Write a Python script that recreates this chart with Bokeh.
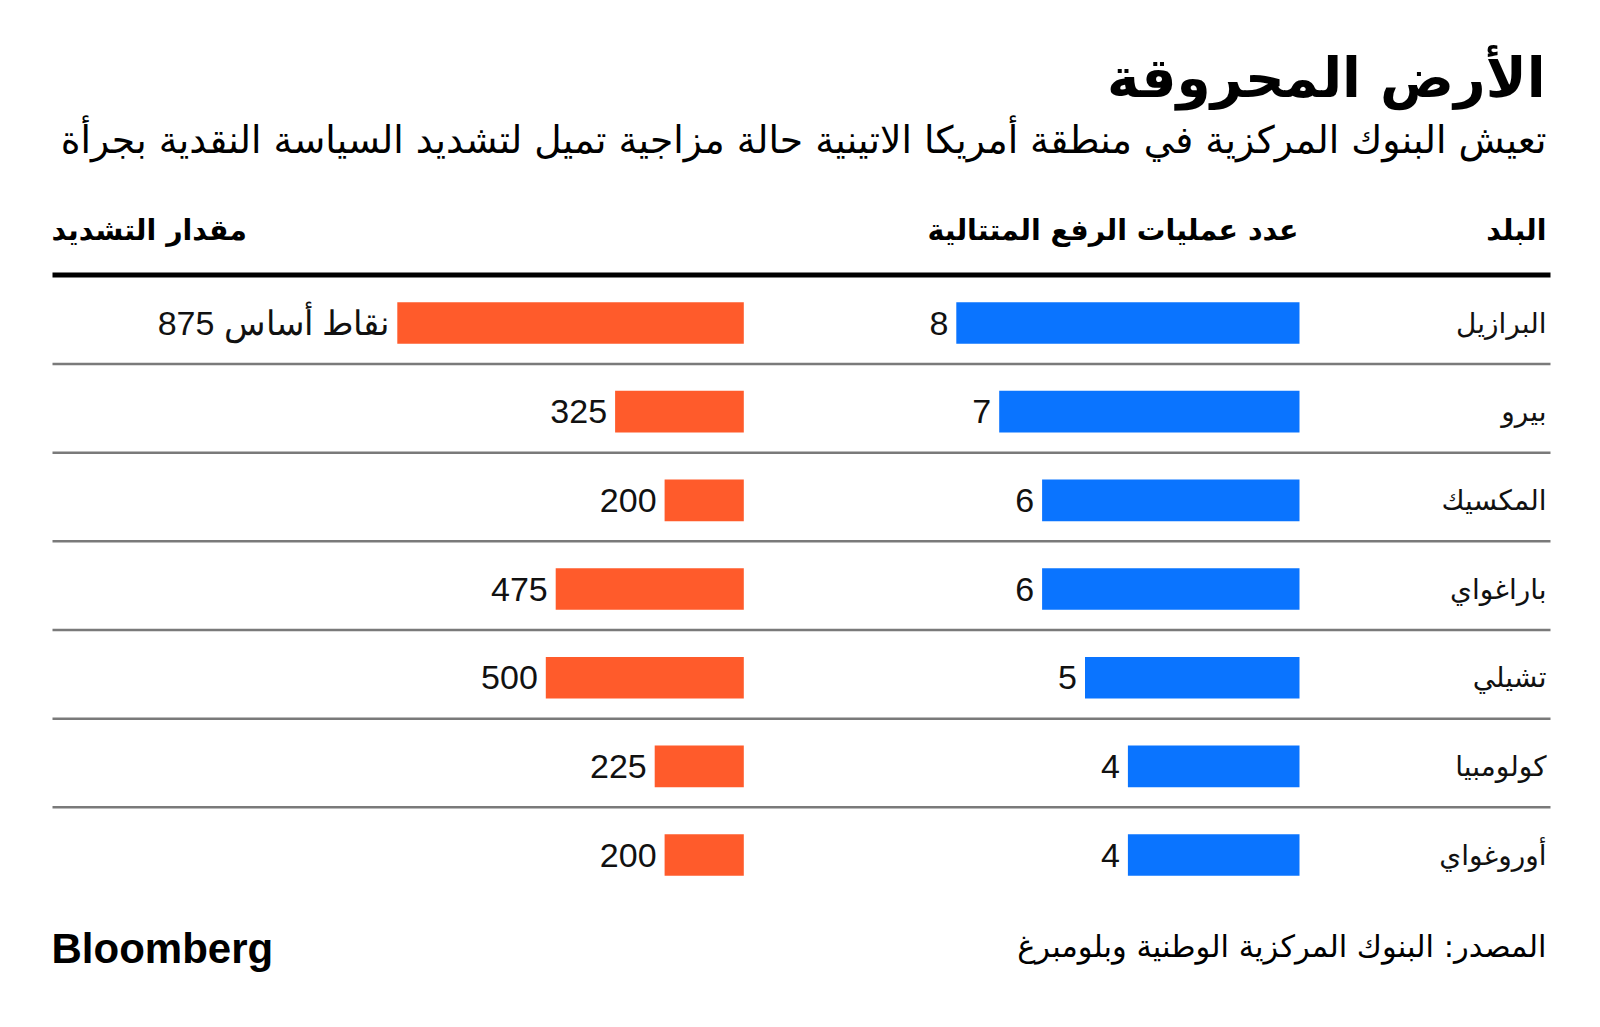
from bokeh.plotting import figure
from bokeh.models import Range1d, ColumnDataSource
from bokeh.core.properties import value
from bokeh.embed import file_html
from bokeh.resources import INLINE

# ---- data ----
countries = ["البرازيل", "بيرو", "المكسيك", "باراغواي", "تشيلي", "كولومبيا", "أوروغواي"]
hikes = [8, 7, 6, 6, 5, 4, 4]
tightening = [875, 325, 200, 475, 500, 225, 200]
tightening_unit = "نقاط أساس"

title = "الأرض المحروقة"
subtitle = "تعيش البنوك المركزية في منطقة أمريكا الاتينية حالة مزاجية تميل لتشديد السياسة النقدية بجرأة"
head_country = "البلد"
head_hikes = "عدد عمليات الرفع المتتالية"
head_tight = "مقدار التشديد"
source_txt = "المصدر: البنوك المركزية الوطنية وبلومبرغ"
brand = "Bloomberg"

BLUE = "#0a74ff"
ORANGE = "#ff5b2b"
AR_FONT = "DejaVu Sans"
NUM_FONT = "Liberation Sans"

W, H = 1584, 1011

rows = list(range(len(countries)))
labels_t = [str(v) for v in tightening]
labels_t[0] = tightening_unit + " " + labels_t[0]

src = ColumnDataSource(dict(
    row=rows, country=countries, hikes=hikes, tight=tightening,
    hlab=[str(v) for v in hikes], tlab=labels_t,
    zero=[0] * len(rows),
))

p = figure(width=W, height=H, output_backend="svg", toolbar_location=None,
           x_range=Range1d(0, W), y_range=Range1d(H, 0), min_border=0,
           outline_line_color=None, background_fill_color="white",
           border_fill_color="white")
p.xaxis.visible = False
p.yaxis.visible = False
p.grid.visible = False

# scales: row index, blue count scale, orange bp scale
row0, row_step = 322.5, 88.67
p.extra_y_ranges = {"rows": Range1d(start=(H - row0) / row_step, end=-row0 / row_step)}
b0, bpx = 1299.0, 42.9
o0, opx = 743.3, 0.396
p.extra_x_ranges = {
    "blue": Range1d(start=b0 / bpx, end=(b0 - W) / bpx),
    "orange": Range1d(start=o0 / opx, end=(o0 - W) / opx),
}

bar_h = 41.6 / row_step

p.hbar(y="row", left="zero", right="hikes", height=bar_h, source=src,
       x_range_name="blue", y_range_name="rows", fill_color=BLUE, line_color=None)
p.hbar(y="row", left="zero", right="tight", height=bar_h, source=src,
       x_range_name="orange", y_range_name="rows", fill_color=ORANGE, line_color=None)

p.text(x="hikes", y="row", text="hlab", source=src, x_range_name="blue", y_range_name="rows",
       x_offset=-8, y_offset=0, text_align="right", text_baseline="middle",
       text_font=value(NUM_FONT), text_font_size="34px", text_color="#111111")
p.text(x="tight", y="row", text="tlab", source=src, x_range_name="orange", y_range_name="rows",
       x_offset=-8, y_offset=0, text_align="right", text_baseline="middle",
       text_font=value(NUM_FONT), text_font_size="34px", text_color="#111111")

p.text(x=1546, y="row", text="country", source=src, y_range_name="rows",
       y_offset=0, text_align="right", text_baseline="middle",
       text_font=value(AR_FONT), text_font_size="28px", text_color="#111111")

# separators
sep_y = [r + 41.0 / row_step for r in rows[:-1]]
p.segment(x0=[52] * len(sep_y), x1=[1550] * len(sep_y), y0=sep_y, y1=sep_y,
          y_range_name="rows", line_color="#7a7a7a", line_width=2.5)
p.segment(x0=[52], x1=[1550], y0=[274.5], y1=[274.5], line_color="black", line_width=5)

# headers
p.text(x=[1546], y=[230], text=[head_country], text_align="right", text_baseline="alphabetic",
       text_font=value(AR_FONT), text_font_style="bold", text_font_size="28.5px", text_color="black")
p.text(x=[1298], y=[230], text=[head_hikes], text_align="right", text_baseline="alphabetic",
       text_font=value(AR_FONT), text_font_style="bold", text_font_size="28.5px", text_color="black")
p.text(x=[51], y=[230], text=[head_tight], text_align="left", text_baseline="alphabetic",
       text_font=value(AR_FONT), text_font_style="bold", text_font_size="28.5px", text_color="black")

# title / subtitle
p.text(x=[1545], y=[77], text=[title], text_align="right", text_baseline="alphabetic",
       text_font=value(AR_FONT), text_font_style="bold", text_font_size="55px", text_color="black")
p.text(x=[1546], y=[139], text=[subtitle], text_align="right", text_baseline="alphabetic",
       text_font=value(AR_FONT), text_font_size="37.7px", text_color="black")

# footer
p.text(x=[51], y=[948], text=[brand], text_align="left", text_baseline="alphabetic",
       text_font=value("Liberation Sans"), text_font_style="bold", text_font_size="42px",
       text_color="black")
p.text(x=[1546], y=[946], text=[source_txt], text_align="right", text_baseline="alphabetic",
       text_font=value(AR_FONT), text_font_size="30.5px", text_color="black")

open("out.html", "w").write(file_html(p, INLINE))
